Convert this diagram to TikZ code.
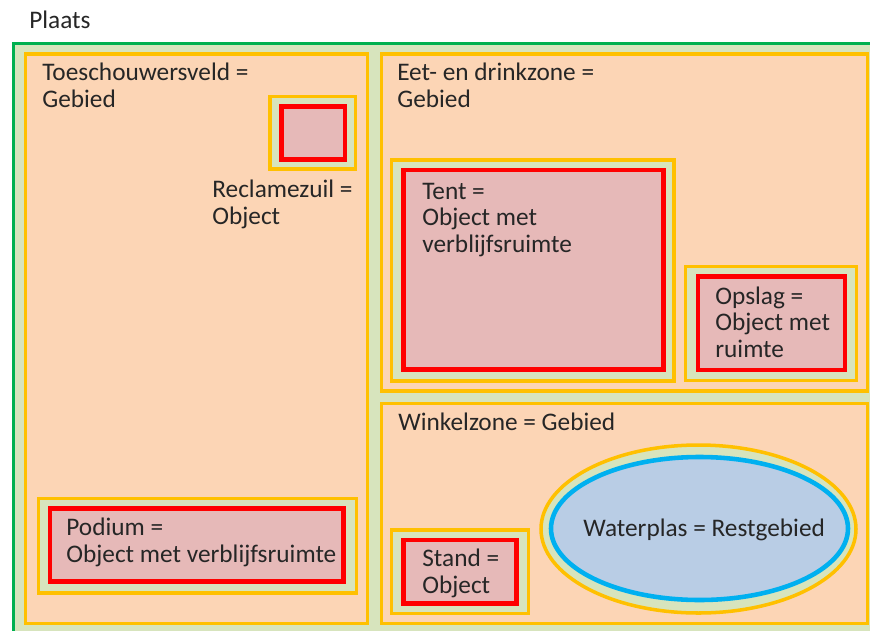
\documentclass[tikz,border=0pt]{standalone}
\usepackage{fontspec}
\setmainfont{Carlito}
\definecolor{groen}{HTML}{00B050}
\definecolor{lichtgroen}{HTML}{D7E4BD}
\definecolor{oranje}{HTML}{FFC000}
\definecolor{perzik}{HTML}{FCD5B5}
\definecolor{rood}{HTML}{FF0000}
\definecolor{roze}{HTML}{E6B9B8}
\definecolor{blauw}{HTML}{00B0F0}
\definecolor{lichtblauw}{HTML}{B9CDE5}
\tikzstyle{plaats} = [draw=groen, fill=lichtgroen, line width=2pt]
\tikzstyle{gebied} = [draw=oranje, fill=perzik, line width=2pt]
\tikzstyle{rand} = [draw=oranje, fill=lichtgroen, line width=2pt]
\tikzstyle{object} = [draw=rood, fill=roze, line width=2.6pt]
\tikzstyle{water} = [draw=blauw, fill=lichtblauw, line width=2.6pt]
\tikzstyle{tekst} = [anchor=base west, inner sep=0pt, align=left, text=black!85,
font=\fontsize{14.4}{14.9}\selectfont]

\begin{document}
\begin{tikzpicture}[x=0.02cm, y=-0.02cm]
\useasboundingbox (0,0) rectangle (870,630);
\fill[white] (0,0) rectangle (870,630);
\clip (0,0) rectangle (870,630);
% plaats
\draw[plaats] (13.5,43.5) rectangle (900,660);
% gebieden
\draw[gebied] (25.5,54) rectangle (367.5,623.5);
\draw[gebied] (381.5,54) rectangle (867.5,391);
\draw[gebied] (381.5,403.5) rectangle (867.5,623.5);
% objecten
\draw[rand] (270,96.5) rectangle (355.5,169);
\draw[object] (281.5,106.5) rectangle (345,159.5);
\draw[rand] (38.5,498.5) rectangle (356.5,593);
\draw[object] (50,508.5) rectangle (343.5,581.5);
\draw[rand] (391.5,160) rectangle (674,381);
\draw[object] (403.5,170) rectangle (663.5,369.5);
\draw[rand] (685.5,266.5) rectangle (856.5,380.5);
\draw[object] (698,276.5) rectangle (845,370);
\draw[rand] (391.5,530) rectangle (528.5,613.5);
\draw[object] (403.5,540) rectangle (516.5,603.5);
% restgebied
\draw[rand] (698.5,529) ellipse [x radius=157.5, y radius=84];
\draw[water] (699.5,528.5) ellipse [x radius=148.5, y radius=71.5];

% teksten (basislijn van de laatste regel)
\node (plaatstekst)[tekst] at (29,28) {Plaats};
\node (veld)[tekst] at (42,107) {Toeschouwersveld =\\Gebied};
\node (zuil)[tekst] at (212,224) {Reclamezuil =\\Object};
\node (eet)[tekst] at (397,107) {Eet- en drinkzone =\\Gebied};
\node (tent)[tekst] at (422,252) {Tent =\\Object met\\verblijfsruimte};
\node (opslag)[tekst] at (715,357) {Opslag =\\Object met\\ruimte};
\node (winkel)[tekst] at (398,430) {Winkelzone = Gebied};
\node (podium)[tekst] at (66,562) {Podium =\\Object met verblijfsruimte};
\node (stand)[tekst] at (422,593) {Stand =\\Object};
\node (waterplas)[tekst] at (583,536) {Waterplas = Restgebied};
\end{tikzpicture}
\end{document}
